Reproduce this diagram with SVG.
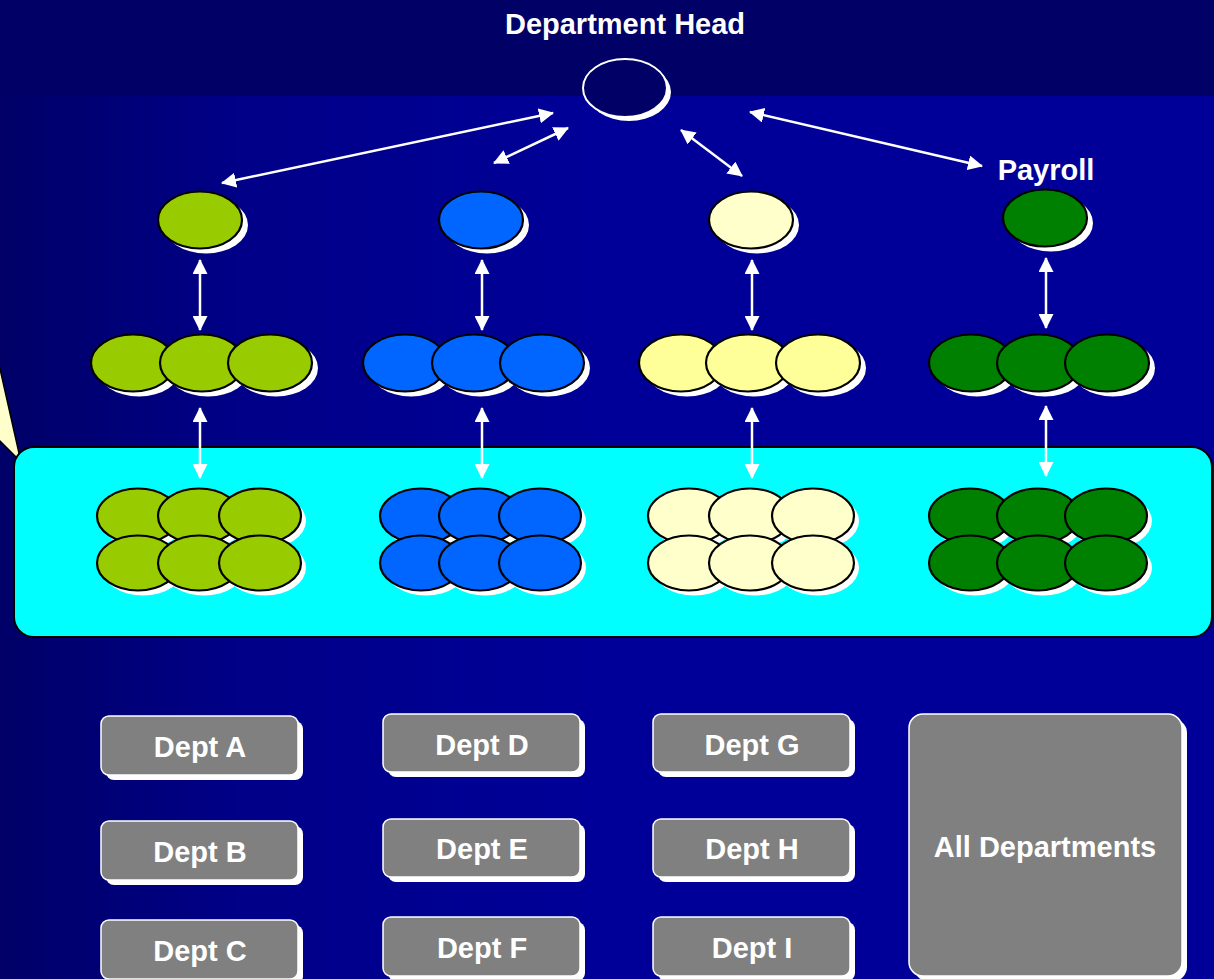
<svg xmlns="http://www.w3.org/2000/svg" width="1214" height="979" viewBox="0 0 1214 979">
  <defs>
    <linearGradient id="bodyGrad" x1="0" y1="0" x2="1" y2="0">
      <stop offset="0" stop-color="#000068"/>
      <stop offset="0.2" stop-color="#000088"/>
      <stop offset="0.5" stop-color="#000099"/>
      <stop offset="1" stop-color="#000099"/>
    </linearGradient>
    <marker id="head" viewBox="0 0 15 15" refX="14" refY="7.5" markerWidth="15" markerHeight="15" markerUnits="userSpaceOnUse" orient="auto-start-reverse">
      <path d="M0,0 L15,7.5 L0,15 z" fill="#FFFFFF"/>
    </marker>
    <ellipse id="oval" cx="0" cy="0" rx="42" ry="28.5"/>
    <ellipse id="ovalS" cx="0" cy="0" rx="41" ry="27.5"/>
  </defs>
  <style>
    .lbl { font-family: "Liberation Sans", Arial, sans-serif; font-weight: bold; font-size: 29px; fill: #FFFFFF; text-anchor: middle; }
    .sh { fill: #FFFFFF; }
    .o { stroke: #000000; stroke-width: 2.2; }
    .lime { fill: #99CC00; }
    .blue { fill: #0066FF; }
    .pale { fill: #FFFFCC; }
    .yel { fill: #FFFF99; }
    .grn { fill: #008000; }
    .conn { stroke: #FFFFFF; stroke-width: 2.5; fill: none; marker-start: url(#head); marker-end: url(#head); }
    .box { fill: #808080; stroke: #FFFFFF; stroke-width: 1.5; }
  </style>

  <!-- background -->
  <rect x="0" y="0" width="1214" height="979" fill="url(#bodyGrad)"/>
  <rect x="0" y="0" width="1214" height="96" fill="#000066"/>

  <!-- title -->
  <text class="lbl" x="625" y="34">Department Head</text>

  <!-- head node -->
  <g id="head-node">
    <ellipse cx="629" cy="92" rx="42" ry="29" fill="#FFFFFF"/>
    <ellipse cx="625" cy="88" rx="42" ry="29" fill="#000066" stroke="#FFFFFF" stroke-width="2"/>
  </g>

  <!-- callout pointer -->
  <polygon points="-2,360 21,462 -2,439" fill="#FFFFCC" stroke="#000000" stroke-width="1.5"/>

  <!-- team area -->
  <rect id="team-area" x="14" y="447" width="1198" height="190" rx="20" fill="#00FFFF" stroke="#000000" stroke-width="2"/>

  <!-- group 1 : lime -->
  <g id="lead-1">
    <use href="#oval" x="206" y="225" class="sh"/>
    <use href="#oval" x="200" y="220" class="o lime"/>
  </g>
  <g id="mid-1">
    <use href="#oval" x="139" y="368" class="sh"/><use href="#oval" x="133" y="363" class="o lime"/>
    <use href="#oval" x="208" y="368" class="sh"/><use href="#oval" x="202" y="363" class="o lime"/>
    <use href="#oval" x="276" y="368" class="sh"/><use href="#oval" x="270" y="363" class="o lime"/>
  </g>
  <g id="staff-1">
    <use href="#ovalS" x="143" y="521" class="sh"/><use href="#ovalS" x="138" y="516" class="o lime"/>
    <use href="#ovalS" x="204" y="521" class="sh"/><use href="#ovalS" x="199" y="516" class="o lime"/>
    <use href="#ovalS" x="265" y="521" class="sh"/><use href="#ovalS" x="260" y="516" class="o lime"/>
    <use href="#ovalS" x="143" y="568" class="sh"/><use href="#ovalS" x="138" y="563" class="o lime"/>
    <use href="#ovalS" x="204" y="568" class="sh"/><use href="#ovalS" x="199" y="563" class="o lime"/>
    <use href="#ovalS" x="265" y="568" class="sh"/><use href="#ovalS" x="260" y="563" class="o lime"/>
  </g>

  <!-- group 2 : blue -->
  <g id="lead-2">
    <use href="#oval" x="487" y="225" class="sh"/>
    <use href="#oval" x="481" y="220" class="o blue"/>
  </g>
  <g id="mid-2">
    <use href="#oval" x="411" y="368" class="sh"/><use href="#oval" x="405" y="363" class="o blue"/>
    <use href="#oval" x="480" y="368" class="sh"/><use href="#oval" x="474" y="363" class="o blue"/>
    <use href="#oval" x="548" y="368" class="sh"/><use href="#oval" x="542" y="363" class="o blue"/>
  </g>
  <g id="staff-2">
    <use href="#ovalS" x="426" y="521" class="sh"/><use href="#ovalS" x="421" y="516" class="o blue"/>
    <use href="#ovalS" x="485" y="521" class="sh"/><use href="#ovalS" x="480" y="516" class="o blue"/>
    <use href="#ovalS" x="545" y="521" class="sh"/><use href="#ovalS" x="540" y="516" class="o blue"/>
    <use href="#ovalS" x="426" y="568" class="sh"/><use href="#ovalS" x="421" y="563" class="o blue"/>
    <use href="#ovalS" x="485" y="568" class="sh"/><use href="#ovalS" x="480" y="563" class="o blue"/>
    <use href="#ovalS" x="545" y="568" class="sh"/><use href="#ovalS" x="540" y="563" class="o blue"/>
  </g>

  <!-- group 3 : pale yellow -->
  <g id="lead-3">
    <use href="#oval" x="757" y="225" class="sh"/>
    <use href="#oval" x="751" y="220" class="o pale"/>
  </g>
  <g id="mid-3">
    <use href="#oval" x="687" y="368" class="sh"/><use href="#oval" x="681" y="363" class="o yel"/>
    <use href="#oval" x="754" y="368" class="sh"/><use href="#oval" x="748" y="363" class="o yel"/>
    <use href="#oval" x="824" y="368" class="sh"/><use href="#oval" x="818" y="363" class="o yel"/>
  </g>
  <g id="staff-3">
    <use href="#ovalS" x="694" y="521" class="sh"/><use href="#ovalS" x="689" y="516" class="o pale"/>
    <use href="#ovalS" x="755" y="521" class="sh"/><use href="#ovalS" x="750" y="516" class="o pale"/>
    <use href="#ovalS" x="818" y="521" class="sh"/><use href="#ovalS" x="813" y="516" class="o pale"/>
    <use href="#ovalS" x="694" y="568" class="sh"/><use href="#ovalS" x="689" y="563" class="o pale"/>
    <use href="#ovalS" x="755" y="568" class="sh"/><use href="#ovalS" x="750" y="563" class="o pale"/>
    <use href="#ovalS" x="818" y="568" class="sh"/><use href="#ovalS" x="813" y="563" class="o pale"/>
  </g>

  <!-- group 4 : green (payroll) -->
  <text class="lbl" x="1046" y="180">Payroll</text>
  <g id="lead-4">
    <use href="#oval" x="1051" y="223" class="sh"/>
    <use href="#oval" x="1045" y="218" class="o grn"/>
  </g>
  <g id="mid-4">
    <use href="#oval" x="977" y="368" class="sh"/><use href="#oval" x="971" y="363" class="o grn"/>
    <use href="#oval" x="1045" y="368" class="sh"/><use href="#oval" x="1039" y="363" class="o grn"/>
    <use href="#oval" x="1113" y="368" class="sh"/><use href="#oval" x="1107" y="363" class="o grn"/>
  </g>
  <g id="staff-4">
    <use href="#ovalS" x="975" y="521" class="sh"/><use href="#ovalS" x="970" y="516" class="o grn"/>
    <use href="#ovalS" x="1043" y="521" class="sh"/><use href="#ovalS" x="1038" y="516" class="o grn"/>
    <use href="#ovalS" x="1111" y="521" class="sh"/><use href="#ovalS" x="1106" y="516" class="o grn"/>
    <use href="#ovalS" x="975" y="568" class="sh"/><use href="#ovalS" x="970" y="563" class="o grn"/>
    <use href="#ovalS" x="1043" y="568" class="sh"/><use href="#ovalS" x="1038" y="563" class="o grn"/>
    <use href="#ovalS" x="1111" y="568" class="sh"/><use href="#ovalS" x="1106" y="563" class="o grn"/>
  </g>

  <!-- connectors -->
  <g id="connectors">
    <line class="conn" x1="222" y1="183" x2="553" y2="113"/>
    <line class="conn" x1="494" y1="163" x2="568" y2="128"/>
    <line class="conn" x1="681" y1="130" x2="742" y2="176"/>
    <line class="conn" x1="750" y1="112" x2="982" y2="166"/>

    <line class="conn" x1="200" y1="260" x2="200" y2="330"/>
    <line class="conn" x1="482" y1="260" x2="482" y2="330"/>
    <line class="conn" x1="752" y1="260" x2="752" y2="330"/>
    <line class="conn" x1="1046" y1="258" x2="1046" y2="328"/>

    <line class="conn" x1="200" y1="408" x2="200" y2="478"/>
    <line class="conn" x1="482" y1="408" x2="482" y2="478"/>
    <line class="conn" x1="752" y1="408" x2="752" y2="478"/>
    <line class="conn" x1="1046" y1="406" x2="1046" y2="476"/>
  </g>

  <!-- department boxes -->
  <g id="dept-a">
    <rect x="106" y="721" width="197" height="59" rx="8" fill="#FFFFFF"/>
    <rect class="box" x="101" y="716" width="197" height="59" rx="8"/>
    <text class="lbl" x="200" y="757">Dept A</text>
  </g>
  <g id="dept-b">
    <rect x="106" y="826" width="197" height="59" rx="8" fill="#FFFFFF"/>
    <rect class="box" x="101" y="821" width="197" height="59" rx="8"/>
    <text class="lbl" x="200" y="862">Dept B</text>
  </g>
  <g id="dept-c">
    <rect x="106" y="925" width="197" height="59" rx="8" fill="#FFFFFF"/>
    <rect class="box" x="101" y="920" width="197" height="59" rx="8"/>
    <text class="lbl" x="200" y="961">Dept C</text>
  </g>
  <g id="dept-d">
    <rect x="388" y="719" width="197" height="58" rx="8" fill="#FFFFFF"/>
    <rect class="box" x="383" y="714" width="197" height="58" rx="8"/>
    <text class="lbl" x="482" y="755">Dept D</text>
  </g>
  <g id="dept-e">
    <rect x="388" y="824" width="197" height="58" rx="8" fill="#FFFFFF"/>
    <rect class="box" x="383" y="819" width="197" height="58" rx="8"/>
    <text class="lbl" x="482" y="859">Dept E</text>
  </g>
  <g id="dept-f">
    <rect x="388" y="922" width="197" height="59" rx="8" fill="#FFFFFF"/>
    <rect class="box" x="383" y="917" width="197" height="59" rx="8"/>
    <text class="lbl" x="482" y="958">Dept F</text>
  </g>
  <g id="dept-g">
    <rect x="658" y="719" width="197" height="58" rx="8" fill="#FFFFFF"/>
    <rect class="box" x="653" y="714" width="197" height="58" rx="8"/>
    <text class="lbl" x="752" y="755">Dept G</text>
  </g>
  <g id="dept-h">
    <rect x="658" y="824" width="197" height="58" rx="8" fill="#FFFFFF"/>
    <rect class="box" x="653" y="819" width="197" height="58" rx="8"/>
    <text class="lbl" x="752" y="859">Dept H</text>
  </g>
  <g id="dept-i">
    <rect x="658" y="922" width="197" height="59" rx="8" fill="#FFFFFF"/>
    <rect class="box" x="653" y="917" width="197" height="59" rx="8"/>
    <text class="lbl" x="752" y="958">Dept I</text>
  </g>
  <g id="dept-all">
    <rect x="914" y="719" width="273" height="262" rx="14" fill="#FFFFFF"/>
    <rect class="box" x="909" y="714" width="273" height="262" rx="14"/>
    <text class="lbl" x="1045" y="857">All Departments</text>
  </g>
</svg>
